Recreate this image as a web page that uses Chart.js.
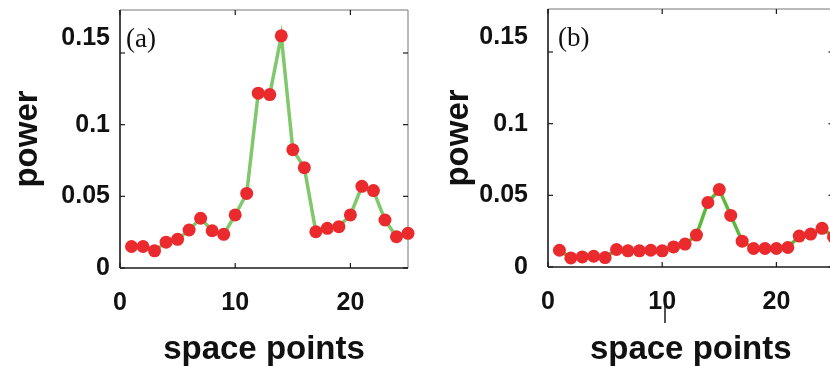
<!DOCTYPE html>
<html>
<head>
<meta charset="utf-8">
<script src="https://cdn.jsdelivr.net/npm/chart.js@4.4.1/dist/chart.umd.min.js"></script>
<style>
html, body { margin: 0; padding: 0; background: #fff; width: 830px; height: 366px; overflow: hidden; position: relative; }
canvas { position: absolute; top: 0; }
#chartA { left: 0; }
#chartB { left: 420px; }
</style>
</head>
<body>
<canvas id="chartA" width="420" height="366"></canvas>
<canvas id="chartB" width="420" height="366"></canvas>
<script>
const spacePoints = [1, 2, 3, 4, 5, 6, 7, 8, 9, 10, 11, 12, 13, 14, 15, 16, 17, 18, 19, 20, 21, 22, 23, 24, 25];
const powerA = [0.015, 0.015, 0.012, 0.018, 0.020, 0.0265, 0.0347, 0.026, 0.0235, 0.037, 0.052, 0.122, 0.121, 0.162, 0.0825, 0.070, 0.0253, 0.0277, 0.0288, 0.037, 0.057, 0.054, 0.0335, 0.0218, 0.0242];
const powerB = [0.0117, 0.0063, 0.007, 0.0075, 0.0066, 0.0122, 0.0113, 0.0113, 0.0117, 0.0113, 0.014, 0.016, 0.0223, 0.045, 0.054, 0.036, 0.018, 0.0129, 0.0129, 0.0129, 0.0136, 0.0216, 0.023, 0.027, 0.021];
const xTicks = [0, 10, 20];
const yTicks = [0, 0.05, 0.1, 0.15];
// in the original figure the top label sits a bit above its tick
const liftedTick = 0.15;

function fmt(v) { return String(+v.toFixed(2)); }

// box with inward ticks + panel letter, matlab style
const frame = {
    id: 'frame',
    beforeDatasetsDraw(chart, args, opts) {
        const ctx = chart.ctx;
        const a = chart.chartArea;
        const x = chart.scales.x, y = chart.scales.y;
        function seg(x1, y1, x2, y2) {
            ctx.beginPath(); ctx.moveTo(x1, y1); ctx.lineTo(x2, y2); ctx.stroke();
        }
        ctx.save();
        ctx.strokeStyle = '#777';
        ctx.lineWidth = 1;
        seg(a.left, a.top, a.right, a.top);
        seg(a.right, a.top, a.right, a.bottom);
        ctx.strokeStyle = '#1a1a1a';
        ctx.lineWidth = 1.6;
        seg(a.left, a.top, a.left, a.bottom);
        seg(a.left, a.bottom, a.right, a.bottom);
        ctx.lineWidth = 1.2;
        xTicks.forEach(function (v) {
            const px = x.getPixelForValue(v);
            seg(px, a.bottom, px, a.bottom - 5);
            seg(px, a.top, px, a.top + 5);
        });
        yTicks.forEach(function (v) {
            const py = y.getPixelForValue(v);
            seg(a.left, py, a.left + 5, py);
            seg(a.right, py, a.right - 5, py);
        });
        if (opts.stray) {
            ctx.lineWidth = 1.5;
            seg(opts.stray[0], opts.stray[1], opts.stray[0], opts.stray[2]);
        }
        ctx.fillStyle = '#111';
        ctx.font = 'bold 25px "Liberation Sans"';
        ctx.textAlign = 'right';
        ctx.textBaseline = 'middle';
        ctx.fillText(fmt(liftedTick), a.left - opts.tickPad, y.getPixelForValue(liftedTick) - 15);
        ctx.font = '27px "Liberation Serif"';
        ctx.textAlign = 'left';
        ctx.textBaseline = 'alphabetic';
        ctx.fillText(opts.text, a.left + opts.dx, a.top + 37);
        ctx.restore();
    }
};

function panel(id, values, cfg) {
    const pts = spacePoints.map(function (s, i) { return { x: s, y: values[i] }; });
    return new Chart(document.getElementById(id).getContext('2d'), {
        type: 'line',
        data: {
            datasets: [{
                data: pts,
                borderColor: cfg.lineColor,
                borderWidth: 3.5,
                pointRadius: 6.5,
                pointBackgroundColor: '#ea2a2c',
                pointBorderWidth: 0,
                tension: 0,
                clip: false
            }]
        },
        options: {
            responsive: false,
            animation: false,
            devicePixelRatio: 1,
            layout: { padding: { top: cfg.top, right: cfg.right, left: 0, bottom: 0 } },
            plugins: {
                legend: { display: false },
                tooltip: { enabled: false },
                frame: { text: cfg.label, dx: cfg.labelDx, stray: cfg.stray, tickPad: cfg.yTickPad }
            },
            scales: {
                x: {
                    type: 'linear',
                    min: 0,
                    max: 25,
                    afterBuildTicks: function (s) { s.ticks = xTicks.map(function (v) { return { value: v }; }); },
                    afterFit: function (s) {
                        s.height = cfg.xHeight;
                        s.paddingLeft = 0; s.paddingRight = 0;
                    },
                    grid: { display: false, drawTicks: false },
                    border: { display: false },
                    ticks: {
                        padding: 20,
                        color: '#111',
                        maxRotation: 0,
                        font: { family: 'Liberation Sans', size: 25, weight: 'bold' }
                    },
                    title: {
                        display: true,
                        text: 'space points',
                        color: '#111',
                        padding: { top: -4, bottom: -4 },
                        font: { family: 'Liberation Sans', size: 33, weight: 'bold' }
                    }
                },
                y: {
                    min: 0,
                    max: 0.18,
                    afterBuildTicks: function (s) { s.ticks = yTicks.map(function (v) { return { value: v }; }); },
                    afterFit: function (s) {
                        s.width = cfg.yWidth;
                        s.paddingTop = 0; s.paddingBottom = 0;
                    },
                    grid: { display: false, drawTicks: false },
                    border: { display: false },
                    ticks: {
                        padding: cfg.yTickPad,
                        color: '#111',
                        font: { family: 'Liberation Sans', size: 25, weight: 'bold' },
                        callback: function (v) { return v === liftedTick ? '' : fmt(v); }
                    },
                    title: {
                        display: true,
                        text: 'power',
                        color: '#111',
                        padding: { top: cfg.titlePad, bottom: 0 },
                        font: { family: 'Liberation Sans', size: 33, weight: 'bold' }
                    }
                }
            }
        },
        plugins: [frame]
    });
}

panel('chartA', powerA, {
    label: '(a)', labelDx: 6, lineColor: '#80c86c',
    top: 10, right: 12, yWidth: 120, xHeight: 98, yTickPad: 10, titlePad: 8
});
panel('chartB', powerB, {
    label: '(b)', labelDx: 10, lineColor: '#5cb83a',
    top: 9, right: 5, yWidth: 128, xHeight: 99, yTickPad: 20, titlePad: 19, stray: [245, 302, 323]
});
</script>
</body>
</html>
